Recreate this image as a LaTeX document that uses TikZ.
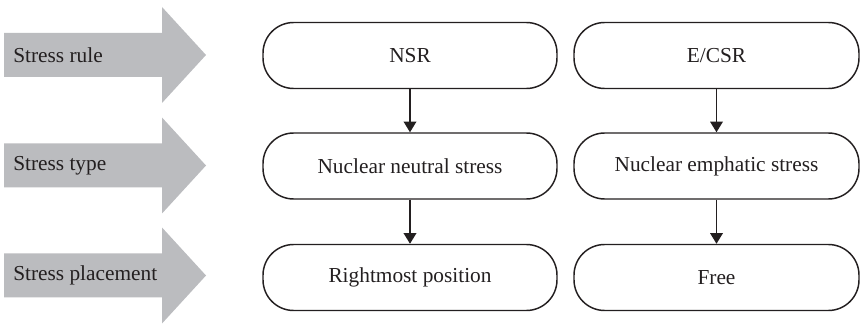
\documentclass[tikz,border=0pt]{standalone}
\usepackage{fontspec}
\setmainfont{Liberation Serif}
\usetikzlibrary{arrows.meta}
\definecolor{ink}{HTML}{231F20}
\definecolor{arrowgray}{HTML}{BBBCBF}
\tikzset{
  pill/.style={draw=ink, line width=1.1pt, rounded corners=23pt, minimum height=49.5pt, inner sep=0pt, text=ink, font=\fontsize{16}{19}\selectfont},
  leftpill/.style={pill, minimum width=220.5pt},
  rightpill/.style={pill, minimum width=213.75pt},
  flow/.style={draw=ink, line width=1pt, -{Triangle[width=9.5pt,length=8pt]}},
  blockarrow/.style={fill=arrowgray, draw=none},
  rowlabel/.style={anchor=west, text=ink, inner sep=0pt, font=\fontsize{16}{19}\selectfont}
}
\begin{document}
\begin{tikzpicture}[x=0.75pt,y=-0.75pt]
\useasboundingbox (0,0) rectangle (861,324);
% block arrows
\foreach \cy/\name/\txt in {55/ra/Stress rule,165.5/rb/Stress type,275.5/rc/Stress placement}{
  \fill[blockarrow] (4,\cy-22) -- (162,\cy-22) -- (162,\cy-48) -- (206,\cy) -- (162,\cy+48) -- (162,\cy+22) -- (4,\cy+22) -- cycle;
  \node[rowlabel] (\name) at (13,\cy) {\txt};
}
% boxes
\node[leftpill] (nsr) at (410,55.5) {NSR};
\node[rightpill] (ecsr) at (716.5,55.5) {E/CSR};
\node[leftpill] (nns) at (410,166) {Nuclear neutral stress};
\node[rightpill] (nes) at (716.5,166) {Nuclear emphatic stress};
\node[leftpill] (rmp) at (410,277.5) {Rightmost position};
\node[rightpill] (free) at (716.5,277.5) {Free};
% connectors
\draw[flow] (nsr) -- (nns);
\draw[flow] (nns) -- (rmp);
\draw[flow] (ecsr) -- (nes);
\draw[flow] (nes) -- (free);
\end{tikzpicture}
\end{document}
